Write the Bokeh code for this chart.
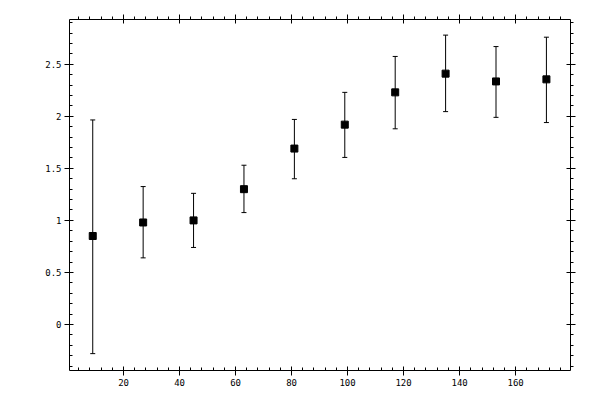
from bokeh.plotting import figure
from bokeh.models import (ColumnDataSource, Range1d, LinearAxis, FixedTicker,
                          CustomJSTickFormatter, Whisker, TeeHead)
from bokeh.embed import file_html
from bokeh.resources import INLINE

# measured points with error bars
xs = [9, 27, 45, 63, 81, 99, 117, 135, 153, 171]
ys = [0.85, 0.98, 1.00, 1.30, 1.69, 1.92, 2.23, 2.41, 2.335, 2.355]
upper = [1.965, 1.325, 1.26, 1.53, 1.97, 2.23, 2.575, 2.78, 2.67, 2.76]
lower = [-0.28, 0.64, 0.74, 1.075, 1.40, 1.605, 1.88, 2.045, 1.99, 1.94]

x_ticks = [20, 40, 60, 80, 100, 120, 140, 160]
y_ticks = [0, 0.5, 1, 1.5, 2, 2.5]

x_minor = [v for v in range(4, 180, 4) if v % 20]
y_minor = [round(-0.4 + 0.1 * i, 1) for i in range(34)]
y_minor = [v for v in y_minor if round(v * 10) % 5]

src = ColumnDataSource(data=dict(x=xs, y=ys, upper=upper, lower=lower))

p = figure(width=600, height=400, output_backend="svg", toolbar_location=None,
           x_range=Range1d(0.7, 179.6), y_range=Range1d(-0.442, 2.93),
           x_axis_location=None, y_axis_location=None,
           min_border_left=69, min_border_right=30,
           min_border_top=19, min_border_bottom=30)
p.grid.visible = False
p.outline_line_color = None
p.background_fill_color = "white"
p.border_fill_color = "white"

fmt = CustomJSTickFormatter(code="return tick.toString();")


def make_axis(ticks, minor, side, labels):
    ax = LinearAxis(ticker=FixedTicker(ticks=ticks, minor_ticks=minor))
    ax.axis_line_color = "black"
    ax.axis_line_width = 1
    ax.major_tick_line_color = "black"
    ax.minor_tick_line_color = "black"
    ax.major_tick_in = 4
    ax.major_tick_out = 5
    # minor ticks always point right / up on screen
    if side in ("left", "below"):
        ax.minor_tick_in = 3
        ax.minor_tick_out = 0
    else:
        ax.minor_tick_in = 0
        ax.minor_tick_out = 3
    if labels:
        ax.formatter = fmt
        ax.major_label_text_font = "DejaVu Sans Mono"
        ax.major_label_text_font_size = "9px"
        ax.major_label_text_color = "black"
        ax.major_label_standoff = 3
    else:
        ax.major_label_text_font_size = "0px"
        ax.major_label_text_color = None
    p.add_layout(ax, side)


make_axis(x_ticks, x_minor, "below", True)
make_axis(x_ticks, x_minor, "above", False)
make_axis(y_ticks, y_minor, "left", True)
make_axis(y_ticks, y_minor, "right", False)

err = Whisker(base="x", upper="upper", lower="lower", source=src,
              line_color="black", line_width=1,
              upper_head=TeeHead(size=5, line_color="black", line_width=1),
              lower_head=TeeHead(size=5, line_color="black", line_width=1))
p.add_layout(err)

p.scatter("x", "y", source=src, marker="square", size=7,
          fill_color="black", line_color="black")

open("out.html", "w").write(file_html(p, INLINE))
